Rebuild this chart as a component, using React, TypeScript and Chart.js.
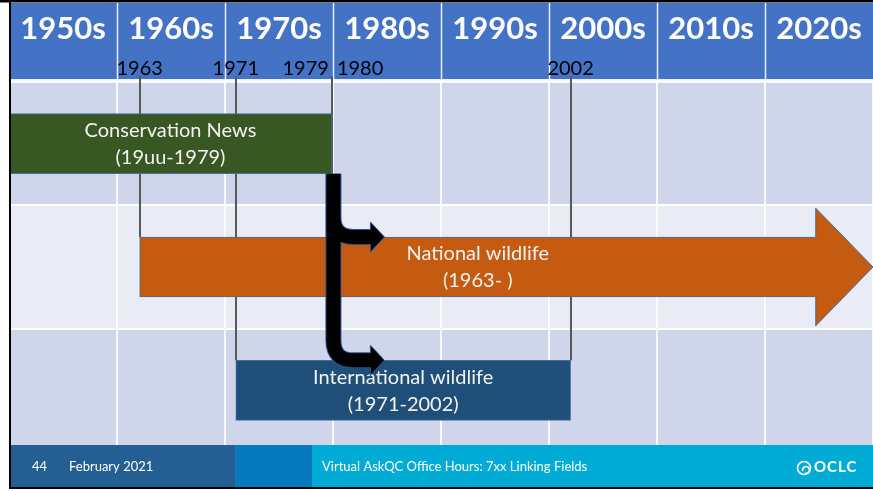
import React, { useEffect, useRef } from "react";
import { Chart, registerables } from "chart.js";

Chart.register(...registerables);

// ---------- data ----------
const decadeLabels = ["1950s", "1960s", "1970s", "1980s", "1990s", "2000s", "2010s", "2020s"];
const decadeStarts = [1950, 1960, 1970, 1980, 1990, 2000, 2010, 2020];
const axisMin = 1950;
const axisMax = 2030;

const titles = ["Conservation News", "National wildlife", "International wildlife"];
const spans = ["(19uu-1979)", "(1963- )", "(1971-2002)"];
const startYears = [1950, 1962.1, 1971];
const endYears = [1979.9, 2024.7, 2002];
const arrowTipYear = 2030; // tip of the "National wildlife" arrowhead
const barColors = ["#385723", "#c55a11", "#1f4e79"];
const rowBands = ["#cfd5ea", "#e9ebf5", "#cfd5ea"];

const markerLabels = ["1963", "1971", "1979", "1980", "2002"];
const markerYears = [1962.1, 1971, 1979.9, 1979.9, 2002];
const markerAlign = ["center", "center", "right", "left", "center"];
const markerBar = [1, 2, 0, -1, 2]; // bar each drop line reaches (-1: none)

const footerTexts = ["44", "February 2021", "Virtual AskQC Office Hours: 7xx Linking Fields"];
const logoText = "OCLC";

const FONT = "Lato, 'Open Sans', sans-serif";
const HEADER_BOTTOM = 80;
const FOOTER_TOP = 445;

const slidePlugin = {
  id: "slide",
  beforeDraw(chart: any) {
    const { ctx, chartArea: ca, scales } = chart;
    const x = scales.x;
    const W = chart.width;
    ctx.save();
    ctx.fillStyle = "#ffffff";
    ctx.fillRect(0, 0, W, chart.height);
    // row bands
    const bh = (ca.bottom - ca.top) / rowBands.length;
    rowBands.forEach((c, i) => {
      ctx.fillStyle = c;
      const t = i === 0 ? HEADER_BOTTOM : ca.top + i * bh;
      ctx.fillRect(11, t, W - 11, ca.top + (i + 1) * bh - t);
    });
    ctx.restore();
  },
  beforeDatasetsDraw(chart: any) {
    const { ctx, chartArea: ca, scales } = chart;
    const x = scales.x;
    const els = chart.getDatasetMeta(0).data;
    ctx.save();
    ctx.strokeStyle = "#595959";
    ctx.lineWidth = 2;
    markerYears.forEach((v, i) => {
      const b = markerBar[i];
      if (b < 0) return;
      const el = els[b];
      const px = Math.round(x.getPixelForValue(v));
      const yEnd = b === 0 ? el.y + el.height / 2 : el.y - el.height / 2;
      ctx.beginPath();
      ctx.moveTo(px, HEADER_BOTTOM - 4);
      ctx.lineTo(px, yEnd);
      ctx.stroke();
    });
    ctx.restore();
  },
  afterDatasetsDraw(chart: any) {
    const { ctx, scales } = chart;
    const x = scales.x;
    const els = chart.getDatasetMeta(0).data;
    ctx.save();
    // arrowhead of national wildlife
    const a = els[1];
    const xe = a.x;
    const yc = a.y;
    const h = a.height;
    const tip = x.getPixelForValue(arrowTipYear);
    const hh = h * 0.98;
    ctx.fillStyle = barColors[1];
    ctx.beginPath();
    ctx.moveTo(xe - 2, yc - h / 2 + 0.5);
    ctx.lineTo(xe, yc - h / 2 + 0.5);
    ctx.lineTo(xe, yc - hh);
    ctx.lineTo(tip, yc);
    ctx.lineTo(xe, yc + hh);
    ctx.lineTo(xe, yc + h / 2 - 0.5);
    ctx.lineTo(xe - 2, yc + h / 2 - 0.5);
    ctx.closePath();
    ctx.fill();
    ctx.strokeStyle = "#41719c";
    ctx.lineWidth = 1;
    ctx.beginPath();
    ctx.moveTo(xe, yc - h / 2);
    ctx.lineTo(xe, yc - hh);
    ctx.lineTo(tip, yc);
    ctx.lineTo(xe, yc + hh);
    ctx.lineTo(xe, yc + h / 2);
    ctx.stroke();

    // bar texts
    ctx.fillStyle = "#f2f2f2";
    ctx.font = `20px ${FONT}`;
    ctx.textAlign = "center";
    ctx.textBaseline = "middle";
    els.forEach((el: any, i: number) => {
      const cx = (el.base + el.x) / 2;
      ctx.fillText(titles[i], cx, el.y - 13);
      ctx.fillText(spans[i], cx, el.y + 14);
    });

    // bent black arrows from end of Conservation News
    const g = els[0];
    const xs = g.x + 1.5;
    const y0 = g.y + g.height / 2;
    const yUp = els[1].y - els[1].height / 2;
    const yLow = els[2].y - els[2].height / 2;
    const r = 20;
    const headBase = xs + 37;
    const headTip = xs + 51;
    const paths = (c: CanvasRenderingContext2D) => {
      c.beginPath();
      c.moveTo(xs, y0);
      c.lineTo(xs, yLow - r);
      c.quadraticCurveTo(xs, yLow, xs + r, yLow);
      c.lineTo(headBase + 1, yLow);
      c.moveTo(xs, yUp - r - 6);
      c.lineTo(xs, yUp - r);
      c.quadraticCurveTo(xs, yUp, xs + r, yUp);
      c.lineTo(headBase + 1, yUp);
    };
    ctx.lineCap = "butt";
    ctx.lineJoin = "round";
    ctx.strokeStyle = "#2f528f";
    ctx.lineWidth = 16;
    paths(ctx);
    ctx.stroke();
    [yUp, yLow].forEach((yy) => {
      ctx.beginPath();
      ctx.moveTo(headBase, yy - 15);
      ctx.lineTo(headTip, yy);
      ctx.lineTo(headBase, yy + 15);
      ctx.closePath();
      ctx.fillStyle = "#000000";
      ctx.fill();
      ctx.lineWidth = 1;
      ctx.strokeStyle = "#2f528f";
      ctx.stroke();
    });
    ctx.strokeStyle = "#000000";
    ctx.lineWidth = 14;
    paths(ctx);
    ctx.stroke();
    ctx.restore();
  },
  afterDraw(chart: any) {
    const { ctx, scales } = chart;
    const x = scales.x;
    const W = chart.width;
    ctx.save();
    // header
    ctx.fillStyle = "#4472c4";
    ctx.fillRect(11, 3, W - 11, HEADER_BOTTOM - 3);
    ctx.fillStyle = "rgba(255,255,255,0.9)";
    ctx.fillRect(11, HEADER_BOTTOM - 1, W - 11, 2);
    ctx.strokeStyle = "rgba(255,255,255,0.9)";
    ctx.lineWidth = 1.5;
    decadeStarts.forEach((d, i) => {
      if (i === 0) return;
      const px = Math.round(x.getPixelForValue(d)) + 0.5;
      ctx.beginPath();
      ctx.moveTo(px, 3);
      ctx.lineTo(px, HEADER_BOTTOM);
      ctx.stroke();
    });
    ctx.fillStyle = "#ffffff";
    ctx.font = `bold 31px ${FONT}`;
    ctx.textAlign = "center";
    ctx.textBaseline = "middle";
    decadeStarts.forEach((d, i) => {
      const cx = (x.getPixelForValue(d) + x.getPixelForValue(d + 10)) / 2;
      ctx.fillText(decadeLabels[i], cx, 29);
    });
    // marker labels + stubs
    ctx.fillStyle = "#000000";
    ctx.font = `20px ${FONT}`;
    markerLabels.forEach((t, i) => {
      const px = x.getPixelForValue(markerYears[i]);
      const al = markerAlign[i];
      ctx.textAlign = al as CanvasTextAlign;
      const dx = al === "right" ? -3 : al === "left" ? 5 : 0;
      ctx.fillText(t, px + dx, 69);
    });
    ctx.strokeStyle = "#595959";
    ctx.lineWidth = 2;
    markerYears.forEach((v, i) => {
      if (markerBar[i] < 0) return;
      const px = Math.round(x.getPixelForValue(v));
      ctx.beginPath();
      ctx.moveTo(px, HEADER_BOTTOM - 4);
      ctx.lineTo(px, HEADER_BOTTOM + 1);
      ctx.stroke();
    });
    // footer
    const fy = FOOTER_TOP;
    const fh = 487 - fy;
    ctx.fillStyle = "#245f93";
    ctx.fillRect(11, fy, 235 - 11, fh);
    ctx.fillStyle = "#077abd";
    ctx.fillRect(235, fy, 312 - 235, fh);
    ctx.fillStyle = "#00acd5";
    ctx.fillRect(312, fy, W - 312, fh);
    ctx.fillStyle = "#ffffff";
    ctx.font = `13px ${FONT}`;
    ctx.textAlign = "left";
    ctx.textBaseline = "middle";
    const ty = fy + fh / 2 + 1;
    ctx.fillText(footerTexts[0], 32, ty);
    ctx.fillText(footerTexts[1], 69, ty);
    ctx.fillText(footerTexts[2], 322, ty);
    // logo
    ctx.strokeStyle = "#ffffff";
    ctx.lineWidth = 1.6;
    ctx.beginPath();
    ctx.arc(804, ty + 1, 6.5, 0, Math.PI * 2);
    ctx.stroke();
    ctx.beginPath();
    ctx.arc(806, ty + 3, 3.4, Math.PI * 0.9, Math.PI * 2.6);
    ctx.stroke();
    ctx.font = `bold 15px ${FONT}`;
    (ctx as any).letterSpacing = "1px";
    ctx.fillText(logoText, 814, ty);
    (ctx as any).letterSpacing = "0px";
    // slide border
    ctx.fillStyle = "#000000";
    ctx.fillRect(0, 0, W, 2.5);
    ctx.fillRect(9, 0, 2, 489);
    ctx.fillRect(9, 487, W - 9, 2);
    ctx.restore();
  },
};

export default function App() {
  const ref = useRef<HTMLCanvasElement | null>(null);
  useEffect(() => {
    if (!ref.current) return;
    const chart = new Chart(ref.current, {
      type: "bar",
      data: {
        labels: titles,
        datasets: [
          {
            data: startYears.map((s, i) => [s, endYears[i]]),
            backgroundColor: barColors,
            borderColor: "#41719c",
            borderWidth: 1,
            borderSkipped: false,
            barThickness: 60,
          } as any,
        ],
      },
      options: {
        indexAxis: "y",
        responsive: false,
        devicePixelRatio: 1,
        animation: false,
        events: [],
        layout: { padding: { left: 9, right: 0, top: 82, bottom: 39 } },
        plugins: { legend: { display: false }, tooltip: { enabled: false } },
        scales: {
          x: {
            type: "linear",
            min: axisMin,
            max: axisMax,
            ticks: { display: false, stepSize: 10 },
            grid: { color: "rgba(255,255,255,0.85)", lineWidth: 2, drawTicks: false },
            border: { display: false },
          },
          y: {
            ticks: { display: false },
            grid: { color: "#ffffff", lineWidth: 2, drawTicks: false, offset: true },
            border: { display: false },
          },
        },
      },
      plugins: [slidePlugin],
    });
    return () => chart.destroy();
  }, []);
  return (
    <div style={{ position: "absolute", left: 0, top: 0, width: 873, height: 491 }}>
      <canvas ref={ref} width={873} height={491} style={{ display: "block" }} />
    </div>
  );
}
